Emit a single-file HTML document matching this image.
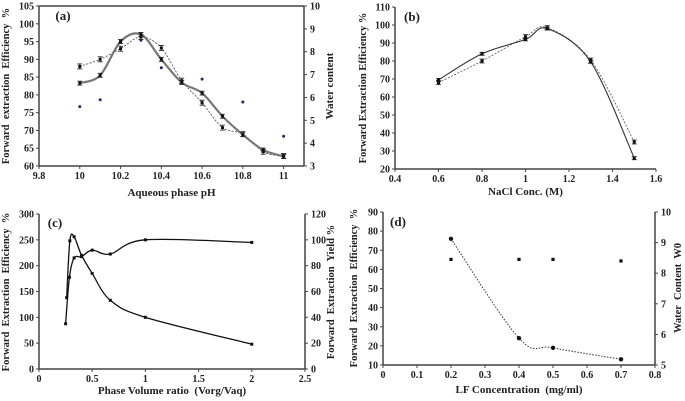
<!DOCTYPE html>
<html><head><meta charset="utf-8">
<style>
html,body{margin:0;padding:0;background:#fff;}
svg{display:block;}
svg text{font-family:"Liberation Serif",serif;font-weight:bold;}
</style></head>
<body>
<svg id="chart" width="685" height="401" viewBox="0 0 685 401" xmlns="http://www.w3.org/2000/svg" font-family="Liberation Serif, serif" font-weight="bold"></svg>
<script>
// Panel (a)
const aX = [10,10.1,10.2,10.3,10.4,10.5,10.6,10.7,10.8,10.9,11];
const aSolid = [83.3,85.5,95,97,90,83.5,80.5,74,68.8,64.5,62.7];
const aDotted = [88,90,93,96.3,93.2,84,77.8,70.8,69,64,62.8];
const aWaterX = [10,10.1,10.3,10.4,10.6,10.8,11];
const aWater = [5.6,5.9,8.5,7.3,6.8,5.8,4.3];
const aXTicks = [9.8,10,10.2,10.4,10.6,10.8,11];
const aYTicks = [60,65,70,75,80,85,90,95,100,105];
const aY2Ticks = [3,4,5,6,7,8,9,10];
// Panel (b)
const bX = [0.6,0.8,1.0,1.1,1.3,1.5];
const bSolid = [69.5,84,92,98,79.5,26];
const bDotted = [68,80,93.5,98.5,80.5,35];
const bXTicks = [0.4,0.6,0.8,1,1.2,1.4,1.6];
const bYTicks = [20,30,40,50,60,70,80,90,100,110];
// Panel (c)
const cEffX = [0.26,0.29,0.33,0.4,0.5,0.67,1,2];
const cEff = [138,248,256,220,185,133,100,48];
const cYieldX = [0.25,0.286,0.33,0.4,0.5,0.67,1,2];
const cYield = [35,71,86,87,92,89,100,98];
const cXTicks = [0,0.5,1,1.5,2,2.5];
const cYTicks = [0,50,100,150,200,250,300];
const cY2Ticks = [0,20,40,60,80,100,120];
// Panel (d)
const dX = [0.2,0.4,0.5,0.7];
const dEff = [76,24,19,13];
const dWater = [8.45,8.45,8.45,8.4];
const dXTicks = [0,0.1,0.2,0.3,0.4,0.5,0.6,0.7,0.8];
const dYTicks = [10,20,30,40,50,60,70,80,90];
const dY2Ticks = [5,6,7,8,9,10];

const svg = document.getElementById('chart');
const NS = 'http://www.w3.org/2000/svg';
const FONT = '"Liberation Serif", serif';
function mk(tag, attrs, parent){
  const e = document.createElementNS(NS, tag);
  for (const k in attrs) e.setAttribute(k, attrs[k]);
  if (tag==='text'){ e.setAttribute('font-family', FONT); e.setAttribute('font-weight','bold'); }
  (parent||svg).appendChild(e); return e;
}
function scale(d0,d1,r0,r1){ return v => r0 + (v-d0)/(d1-d0)*(r1-r0); }
function smoothPath(pts){
  let d = 'M'+pts[0][0]+','+pts[0][1];
  for (let i=0;i<pts.length-1;i++){
    const p0=pts[Math.max(i-1,0)], p1=pts[i], p2=pts[i+1], p3=pts[Math.min(i+2,pts.length-1)];
    const c1=[p1[0]+(p2[0]-p0[0])/6, p1[1]+(p2[1]-p0[1])/6];
    const c2=[p2[0]-(p3[0]-p1[0])/6, p2[1]-(p3[1]-p1[1])/6];
    d += ' C'+c1[0]+','+c1[1]+' '+c2[0]+','+c2[1]+' '+p2[0]+','+p2[1];
  }
  return d;
}
function lineSeries(g, xs, ys, sx, sy, opts, name){
  const pts = xs.map((x,i)=>[sx(x), sy(ys[i])]);
  const p = mk('path',{d: opts.smooth?smoothPath(pts):('M'+pts.map(q=>q.join(',')).join(' L')), fill:'none', stroke:opts.color, 'stroke-width':opts.w, 'stroke-dasharray':opts.dash||'none'}, g);
  
  
  pts.forEach((q)=>{
    if (opts.err){
      const e = mk('path',{d:`M${q[0]-2.5},${q[1]-opts.err} H${q[0]+2.5} M${q[0]},${q[1]-opts.err} V${q[1]+opts.err} M${q[0]-2.5},${q[1]+opts.err} H${q[0]+2.5}`, stroke:'#222', 'stroke-width':0.8, fill:'none'}, g);
      
      
    }
    if (opts.marker){
      const m = mk('rect',{x:q[0]-1.5,y:q[1]-1.5,width:3,height:3,fill:opts.mcolor||'#111'}, g);
      
      
    }
  });
}
function scatter(g, xs, ys, sx, sy, color, r, name, square){
  xs.forEach((x,i)=>{
    const m = square ? mk('rect',{x:sx(x)-r,y:sy(ys[i])-r,width:2*r,height:2*r,fill:color},g)
                     : mk('circle',{cx:sx(x),cy:sy(ys[i]),r:r,fill:color},g);
    
    
  });
}
function axes(g, L, R, T, B, sx, sy, xt, yt, fmtX, opts){
  const ax = mk('g',{},g);
  
  
  mk('line',{x1:L,y1:B,x2:R,y2:B,stroke:'#444','stroke-width':1.5},ax);
  mk('line',{x1:L,y1:T,x2:L,y2:B,stroke:'#444','stroke-width':1.5},ax);
  if (opts.right) mk('line',{x1:R,y1:T,x2:R,y2:B,stroke:'#444','stroke-width':1.5},ax);
  if (opts.top) mk('line',{x1:L,y1:T,x2:R,y2:T,stroke:'#444','stroke-width':1.5},ax);
  xt.forEach(v=>{
    const x=sx(v);
    mk('line',{x1:x,y1:B,x2:x,y2:B+3,stroke:'#444'},ax);
    const t=mk('text',{x:x,y:B+13,'font-size':10,'text-anchor':'middle',fill:'#222'},ax);
    t.textContent=fmtX(v);
    
    
  });
  yt.forEach(v=>{
    const y=sy(v);
    mk('line',{x1:L-3,y1:y,x2:L,y2:y,stroke:'#444'},ax);
    const t=mk('text',{x:L-5,y:y+3.5,'font-size':10,'text-anchor':'end',fill:'#222'},ax);
    t.textContent=v;
    
    
  });
  if (opts.y2){
    opts.y2.forEach(v=>{
      const y=opts.sy2(v);
      mk('line',{x1:R,y1:y,x2:R+3,y2:y,stroke:'#444'},ax);
      const t=mk('text',{x:R+6,y:y+3.5,'font-size':10,'text-anchor':'start',fill:'#222'},ax);
      t.textContent=v;
      
      
    });
  }
}
function label(g, x, y, txt, rot, size, name){
  const t = mk('text',{x:x,y:y,'font-size':size||11,'text-anchor':'middle',fill:'#222',transform:rot?`rotate(${rot} ${x} ${y})`:''},g);
  t.textContent = txt;
  t.setAttribute('xml:space','preserve');
  t.style.whiteSpace = 'pre';
  
  
}
const f1 = v=> (Math.round(v*10)/10).toString();

// ---- Panel a
{
  const g = mk('g',{});  
  const L=39,R=304,T=6,B=166;
  const sx=scale(9.8,11.1,L,R), sy=scale(60,105,B,T), sy2=scale(3,10,B,T);
  axes(g,L,R,T,B,sx,sy,aXTicks,aYTicks,f1,{right:true,top:true,y2:aY2Ticks,sy2:sy2});
  lineSeries(g,aX,aDotted,sx,sy,{smooth:true,color:'#555',w:0.9,dash:'2,1.5',marker:true,err:2.5},'a-dotted-series');
  lineSeries(g,aX,aSolid,sx,sy,{smooth:true,color:'#777',w:2.2,marker:true,err:2},'a-solid-series');
  scatter(g,aWaterX,aWater,sx,sy2,'#1a2a6a',1.5,'a-water-point');
  label(g,63,20,'(a)',0,13,'panel-a-label');
  label(g,(L+R)/2,196,'Aqueous phase pH',0,11,'a-x-axis-title');
  label(g,9,86,'Forward  extraction  Efficiency  %',-90,10.5,'a-y-axis-title');
  label(g,333,86,'Water content',-90,11,'a-y2-axis-title');
}
// ---- Panel b
{
  const g = mk('g',{});  
  const L=395,R=656,T=7,B=169;
  const sx=scale(0.4,1.6,L,R), sy=scale(20,110,B,T);
  axes(g,L,R,T,B,sx,sy,bXTicks,bYTicks,f1,{});
  lineSeries(g,bX,bDotted,sx,sy,{smooth:true,color:'#666',w:0.9,dash:'2,1.5',marker:true,err:2},'b-dotted-series');
  lineSeries(g,bX,bSolid,sx,sy,{smooth:true,color:'#333',w:1.1,marker:true,err:1.5},'b-solid-series');
  label(g,412,21,'(b)',0,13,'panel-b-label');
  label(g,(L+R)/2,195,'NaCl Conc. (M)',0,11,'b-x-axis-title');
  label(g,366,88,'Forward Extraction Efficiency %',-90,10.5,'b-y-axis-title');
}
// ---- Panel c
{
  const g = mk('g',{});  
  const L=39,R=305,T=214,B=369;
  const sx=scale(0,2.5,L,R), sy=scale(0,300,B,T), sy2=scale(0,120,B,T);
  axes(g,L,R,T,B,sx,sy,cXTicks,cYTicks,f1,{right:true,y2:cY2Ticks,sy2:sy2});
  lineSeries(g,cEffX,cEff,sx,sy,{smooth:true,color:'#111',w:1.3,marker:true},'c-efficiency-series');
  lineSeries(g,cYieldX,cYield,sx,sy2,{smooth:true,color:'#111',w:1.3,marker:true},'c-yield-series');
  label(g,55,227,'(c)',0,13,'panel-c-label');
  label(g,(L+R)/2,394,'Phase Volume ratio  (Vorg/Vaq)',0,11,'c-x-axis-title');
  label(g,9,292,'Forward  Extraction  Efficiency  %',-90,10.5,'c-y-axis-title');
  label(g,334,292,'Forward  Extraction  Yield %',-90,10.5,'c-y2-axis-title');
}
// ---- Panel d
{
  const g = mk('g',{});  
  const L=383,R=655,T=212,B=365;
  const sx=scale(0,0.8,L,R), sy=scale(10,90,B,T), sy2=scale(5,10,B,T);
  axes(g,L,R,T,B,sx,sy,dXTicks,dYTicks,f1,{right:true,y2:dY2Ticks,sy2:sy2});
  lineSeries(g,dX,dEff,sx,sy,{smooth:true,color:'#333',w:1,dash:'1.5,1.5'},'d-efficiency-series');
  scatter(g,dX,dEff,sx,sy,'#111',2.2,'d-efficiency-point');
  scatter(g,dX,dWater,sx,sy2,'#111',1.6,'d-water-point',true);
  label(g,398,226,'(d)',0,13,'panel-d-label');
  label(g,(L+R)/2,393,'LF Concentration  (mg/ml)',0,11,'d-x-axis-title');
  label(g,357,288,'Forward  Extraction  Efficiency  %',-90,10.5,'d-y-axis-title');
  label(g,681,288,'Water  Content  W0',-90,10.5,'d-y2-axis-title');
}
</script>
</body></html>
